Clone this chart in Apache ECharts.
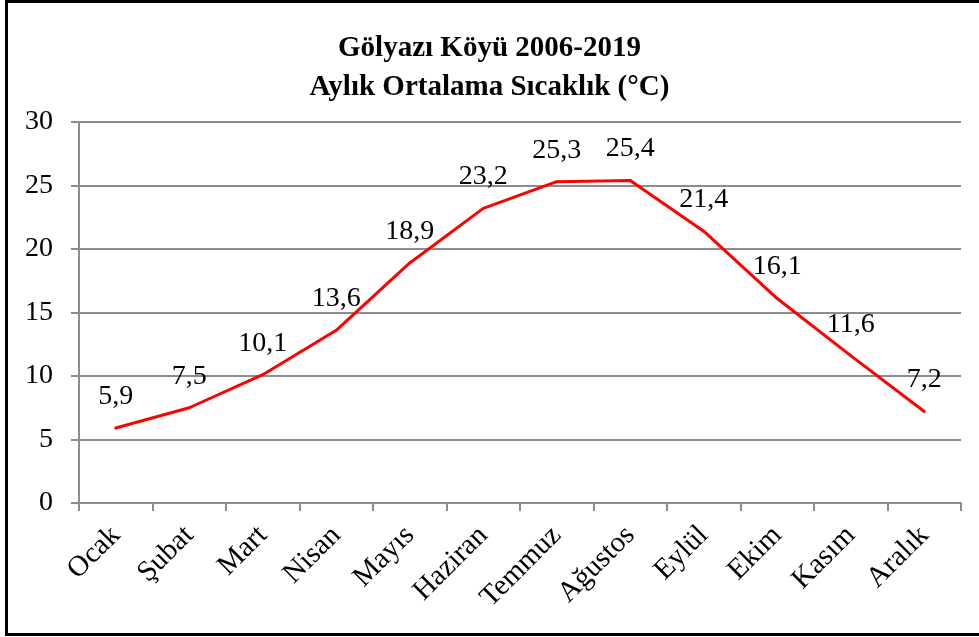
<!DOCTYPE html>
<html><head><meta charset="utf-8">
<script src="https://cdn.jsdelivr.net/npm/echarts@6/dist/echarts.min.js"></script>
<style>html,body{margin:0;padding:0;background:#fff}#c{width:979px;height:637px}</style>
</head><body><div id="c"></div>
<script>
const titleText = 'Gölyazı Köyü 2006-2019\nAylık Ortalama Sıcaklık (°C)';
const months = ['Ocak','Şubat','Mart','Nisan','Mayıs','Haziran','Temmuz','Ağustos','Eylül','Ekim','Kasım','Aralık'];
const temps = [5.9,7.5,10.1,13.6,18.9,23.2,25.3,25.4,21.4,16.1,11.6,7.2];
const yMin = 0, yMax = 30, yStep = 5;

const font = '"Liberation Serif","Times New Roman",serif';
const chart = echarts.init(document.getElementById('c'));
chart.setOption({
  animation: false,
  backgroundColor: '#fff',
  title: {
    text: titleText, left: 'center', top: 24,
    textStyle: {fontFamily: font, fontWeight: 'bold', fontSize: 29, lineHeight: 39, color: '#000'}
  },
  graphic: [{type: 'rect', shape: {x: 6.5, y: 1.5, width: 990, height: 633}, style: {fill: 'none', stroke: '#000', lineWidth: 3}, z: 100}],
  grid: {left: 79, right: 18, top: 122, bottom: 134},
  xAxis: {
    type: 'category', data: months, boundaryGap: true,
    axisLine: {lineStyle: {color: '#8c8c8c', width: 2}},
    axisTick: {show: true, length: 8, alignWithLabel: false, lineStyle: {color: '#8c8c8c', width: 2}},
    axisLabel: {rotate: 45, margin: 28, interval: 0, fontFamily: font, fontSize: 29, color: '#000'}
  },
  yAxis: {
    type: 'value', min: yMin, max: yMax, interval: yStep,
    axisLine: {show: true, lineStyle: {color: '#8c8c8c', width: 2}},
    axisTick: {show: true, length: 8, lineStyle: {color: '#8c8c8c', width: 2}},
    splitLine: {lineStyle: {color: '#8c8c8c', width: 2}},
    axisLabel: {margin: 26, fontFamily: font, fontSize: 28, color: '#000'}
  },
  series: [{
    type: 'line', data: temps, showSymbol: true, symbol: 'circle', symbolSize: 3,
    itemStyle: {color: '#ff0000'},
    lineStyle: {color: '#ff0000', width: 3},
    label: {show: true, position: 'top', distance: 16, fontFamily: font, fontSize: 28, color: '#000',
      formatter: p => String(p.value).replace('.', ',')}
  }]
});
</script></body></html>
